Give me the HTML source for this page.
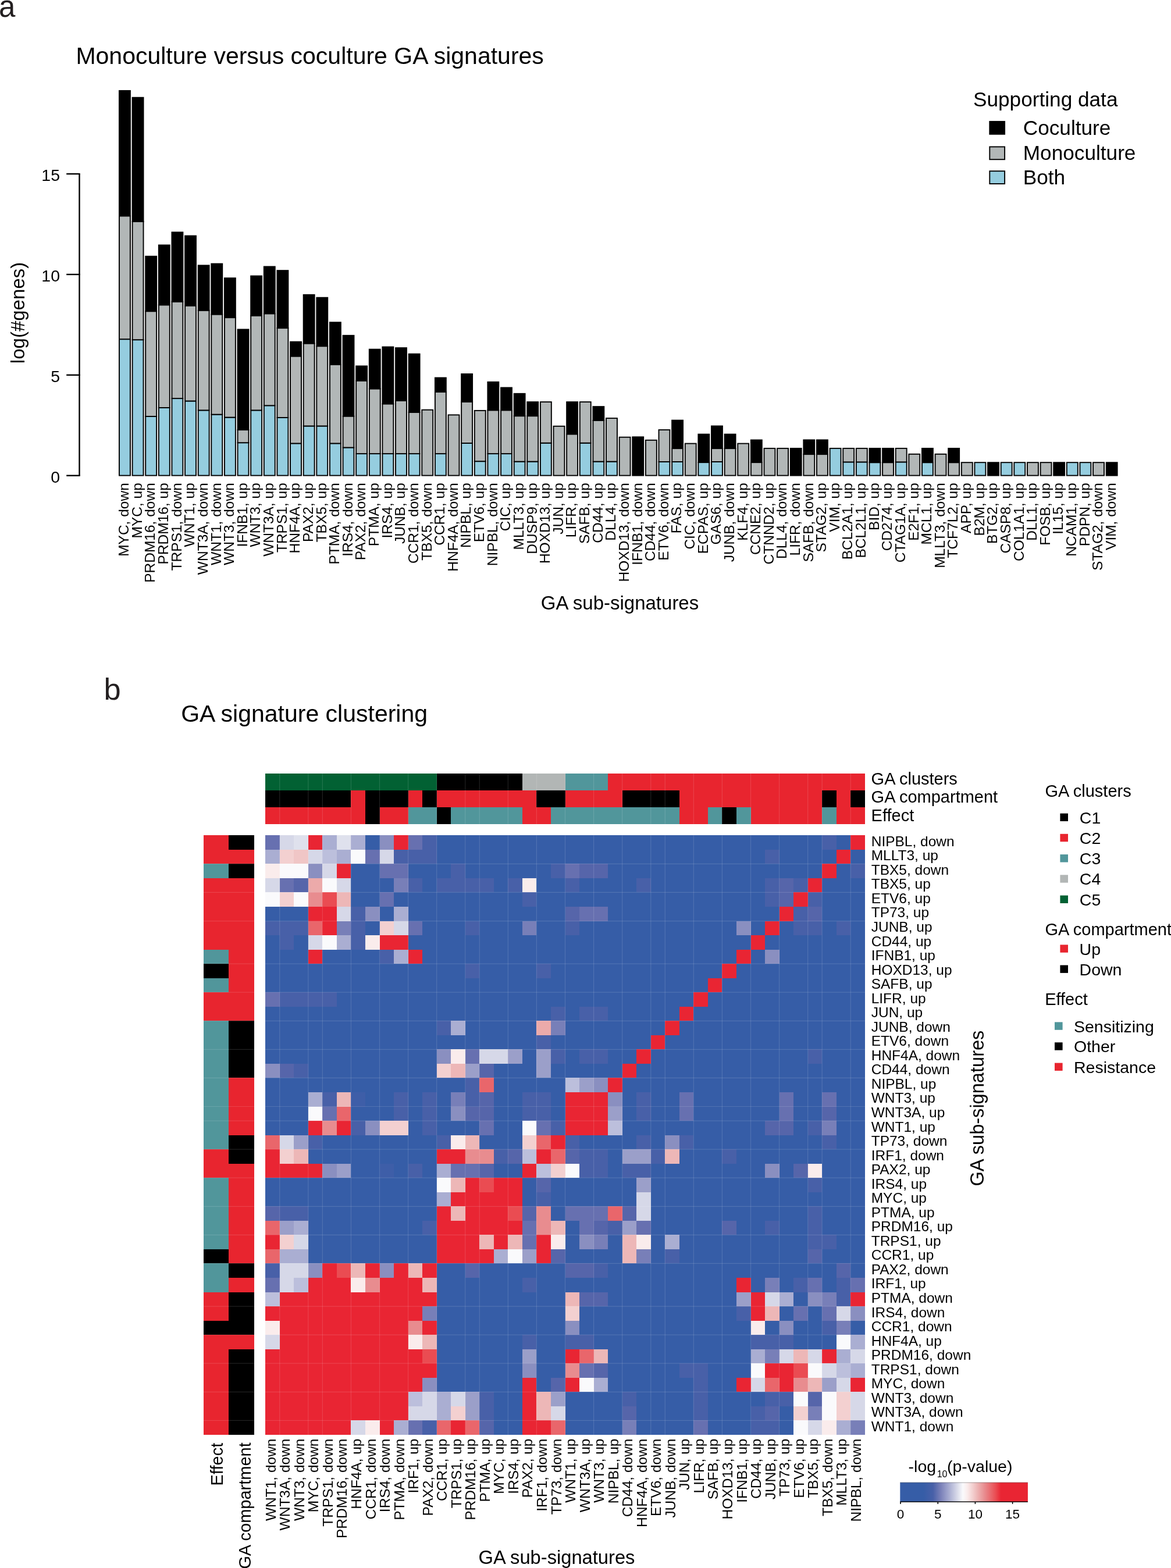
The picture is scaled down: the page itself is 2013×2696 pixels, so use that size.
<!DOCTYPE html>
<html><head><meta charset="utf-8"><title>GA signatures</title>
<style>html,body{margin:0;padding:0;background:#fff;}svg{display:block;}</style></head>
<body>
<svg width="2013" height="2696" viewBox="0 0 2013 2696" font-family="'Liberation Sans', Arial, Helvetica, sans-serif" fill="#000"><text x="-2" y="29" font-size="51" fill="#231f20">a</text>
<text x="130.4" y="110" font-size="41">Monoculture versus coculture GA signatures</text>
<g stroke="#000" stroke-width="2.4" fill="none">
<line x1="136.5" y1="817.7" x2="136.5" y2="299.0"/>
<line x1="114.2" y1="817.7" x2="137.7" y2="817.7"/>
<line x1="114.2" y1="644.8" x2="137.7" y2="644.8"/>
<line x1="114.2" y1="471.9" x2="137.7" y2="471.9"/>
<line x1="114.2" y1="299.0" x2="137.7" y2="299.0"/>
</g>
<text x="103" y="829.8" font-size="28.5" text-anchor="end">0</text>
<text x="103" y="656.9" font-size="28.5" text-anchor="end">5</text>
<text x="103" y="484.0" font-size="28.5" text-anchor="end">10</text>
<text x="103" y="311.1" font-size="28.5" text-anchor="end">15</text>
<text transform="translate(41.8,538) rotate(-90)" font-size="33" text-anchor="middle">log(#genes)</text>
<g stroke="#000" stroke-width="1.9">
<rect x="204.95" y="583.2" width="18.95" height="234.4" fill="#95cddf"/>
<rect x="204.95" y="371.3" width="18.95" height="211.9" fill="#b2b7b7"/>
<rect x="204.95" y="155.9" width="18.95" height="215.4" fill="#000"/>
<rect x="227.57" y="584.2" width="18.95" height="233.4" fill="#95cddf"/>
<rect x="227.57" y="380.9" width="18.95" height="203.3" fill="#b2b7b7"/>
<rect x="227.57" y="167.7" width="18.95" height="213.2" fill="#000"/>
<rect x="250.20" y="716.0" width="18.95" height="101.6" fill="#95cddf"/>
<rect x="250.20" y="535.2" width="18.95" height="180.8" fill="#b2b7b7"/>
<rect x="250.20" y="440.7" width="18.95" height="94.5" fill="#000"/>
<rect x="272.82" y="701.0" width="18.95" height="116.6" fill="#95cddf"/>
<rect x="272.82" y="524.3" width="18.95" height="176.7" fill="#b2b7b7"/>
<rect x="272.82" y="421.4" width="18.95" height="102.9" fill="#000"/>
<rect x="295.44" y="685.1" width="18.95" height="132.5" fill="#95cddf"/>
<rect x="295.44" y="518.7" width="18.95" height="166.4" fill="#b2b7b7"/>
<rect x="295.44" y="399.3" width="18.95" height="119.4" fill="#000"/>
<rect x="318.06" y="689.5" width="18.95" height="128.1" fill="#95cddf"/>
<rect x="318.06" y="525.6" width="18.95" height="163.9" fill="#b2b7b7"/>
<rect x="318.06" y="405.5" width="18.95" height="120.1" fill="#000"/>
<rect x="340.69" y="705.4" width="18.95" height="112.2" fill="#95cddf"/>
<rect x="340.69" y="533.7" width="18.95" height="171.7" fill="#b2b7b7"/>
<rect x="340.69" y="456.3" width="18.95" height="77.4" fill="#000"/>
<rect x="363.31" y="712.6" width="18.95" height="105.0" fill="#95cddf"/>
<rect x="363.31" y="540.5" width="18.95" height="172.1" fill="#b2b7b7"/>
<rect x="363.31" y="453.5" width="18.95" height="87.0" fill="#000"/>
<rect x="385.93" y="717.6" width="18.95" height="100.0" fill="#95cddf"/>
<rect x="385.93" y="546.1" width="18.95" height="171.5" fill="#b2b7b7"/>
<rect x="385.93" y="478.1" width="18.95" height="68.0" fill="#000"/>
<rect x="408.56" y="761.2" width="18.95" height="56.4" fill="#95cddf"/>
<rect x="408.56" y="739.1" width="18.95" height="22.1" fill="#b2b7b7"/>
<rect x="408.56" y="566.4" width="18.95" height="172.7" fill="#000"/>
<rect x="431.18" y="705.4" width="18.95" height="112.2" fill="#95cddf"/>
<rect x="431.18" y="542.7" width="18.95" height="162.7" fill="#b2b7b7"/>
<rect x="431.18" y="474.5" width="18.95" height="68.2" fill="#000"/>
<rect x="453.80" y="697.3" width="18.95" height="120.3" fill="#95cddf"/>
<rect x="453.80" y="539.3" width="18.95" height="158.0" fill="#b2b7b7"/>
<rect x="453.80" y="458.4" width="18.95" height="80.9" fill="#000"/>
<rect x="476.43" y="718.0" width="18.95" height="99.6" fill="#95cddf"/>
<rect x="476.43" y="564.1" width="18.95" height="153.9" fill="#b2b7b7"/>
<rect x="476.43" y="465.1" width="18.95" height="99.0" fill="#000"/>
<rect x="499.05" y="762.4" width="18.95" height="55.2" fill="#95cddf"/>
<rect x="499.05" y="612.5" width="18.95" height="149.9" fill="#b2b7b7"/>
<rect x="499.05" y="587.7" width="18.95" height="24.8" fill="#000"/>
<rect x="521.67" y="732.5" width="18.95" height="85.1" fill="#95cddf"/>
<rect x="521.67" y="590.5" width="18.95" height="142.0" fill="#b2b7b7"/>
<rect x="521.67" y="506.8" width="18.95" height="83.7" fill="#000"/>
<rect x="544.30" y="732.5" width="18.95" height="85.1" fill="#95cddf"/>
<rect x="544.30" y="595.2" width="18.95" height="137.3" fill="#b2b7b7"/>
<rect x="544.30" y="511.7" width="18.95" height="83.5" fill="#000"/>
<rect x="566.92" y="762.4" width="18.95" height="55.2" fill="#95cddf"/>
<rect x="566.92" y="626.7" width="18.95" height="135.7" fill="#b2b7b7"/>
<rect x="566.92" y="554.2" width="18.95" height="72.5" fill="#000"/>
<rect x="589.54" y="769.5" width="18.95" height="48.1" fill="#95cddf"/>
<rect x="589.54" y="715.6" width="18.95" height="53.9" fill="#b2b7b7"/>
<rect x="589.54" y="576.8" width="18.95" height="138.8" fill="#000"/>
<rect x="612.16" y="780.1" width="18.95" height="37.5" fill="#95cddf"/>
<rect x="612.16" y="654.6" width="18.95" height="125.5" fill="#b2b7b7"/>
<rect x="612.16" y="629.4" width="18.95" height="25.2" fill="#000"/>
<rect x="634.79" y="780.1" width="18.95" height="37.5" fill="#95cddf"/>
<rect x="634.79" y="668.4" width="18.95" height="111.7" fill="#b2b7b7"/>
<rect x="634.79" y="600.6" width="18.95" height="67.8" fill="#000"/>
<rect x="657.41" y="780.1" width="18.95" height="37.5" fill="#95cddf"/>
<rect x="657.41" y="694.4" width="18.95" height="85.7" fill="#b2b7b7"/>
<rect x="657.41" y="596.5" width="18.95" height="97.9" fill="#000"/>
<rect x="680.03" y="780.1" width="18.95" height="37.5" fill="#95cddf"/>
<rect x="680.03" y="689.0" width="18.95" height="91.1" fill="#b2b7b7"/>
<rect x="680.03" y="598.1" width="18.95" height="90.9" fill="#000"/>
<rect x="702.66" y="780.1" width="18.95" height="37.5" fill="#95cddf"/>
<rect x="702.66" y="708.9" width="18.95" height="71.2" fill="#b2b7b7"/>
<rect x="702.66" y="608.6" width="18.95" height="100.3" fill="#000"/>
<rect x="725.28" y="704.7" width="18.95" height="112.9" fill="#b2b7b7"/>
<rect x="747.90" y="780.1" width="18.95" height="37.5" fill="#95cddf"/>
<rect x="747.90" y="673.8" width="18.95" height="106.3" fill="#b2b7b7"/>
<rect x="747.90" y="649.5" width="18.95" height="24.3" fill="#000"/>
<rect x="770.53" y="713.4" width="18.95" height="104.2" fill="#b2b7b7"/>
<rect x="793.15" y="762.0" width="18.95" height="55.6" fill="#95cddf"/>
<rect x="793.15" y="691.0" width="18.95" height="71.0" fill="#b2b7b7"/>
<rect x="793.15" y="643.0" width="18.95" height="48.0" fill="#000"/>
<rect x="815.77" y="793.2" width="18.95" height="24.4" fill="#95cddf"/>
<rect x="815.77" y="705.9" width="18.95" height="87.3" fill="#b2b7b7"/>
<rect x="838.39" y="780.1" width="18.95" height="37.5" fill="#95cddf"/>
<rect x="838.39" y="705.3" width="18.95" height="74.8" fill="#b2b7b7"/>
<rect x="838.39" y="656.8" width="18.95" height="48.5" fill="#000"/>
<rect x="861.02" y="780.1" width="18.95" height="37.5" fill="#95cddf"/>
<rect x="861.02" y="705.3" width="18.95" height="74.8" fill="#b2b7b7"/>
<rect x="861.02" y="666.5" width="18.95" height="38.8" fill="#000"/>
<rect x="883.64" y="793.6" width="18.95" height="24.0" fill="#95cddf"/>
<rect x="883.64" y="715.2" width="18.95" height="78.4" fill="#b2b7b7"/>
<rect x="883.64" y="676.8" width="18.95" height="38.4" fill="#000"/>
<rect x="906.26" y="793.6" width="18.95" height="24.0" fill="#95cddf"/>
<rect x="906.26" y="715.2" width="18.95" height="78.4" fill="#b2b7b7"/>
<rect x="906.26" y="691.1" width="18.95" height="24.1" fill="#000"/>
<rect x="928.89" y="761.7" width="18.95" height="55.9" fill="#95cddf"/>
<rect x="928.89" y="691.1" width="18.95" height="70.6" fill="#b2b7b7"/>
<rect x="951.51" y="732.8" width="18.95" height="84.8" fill="#b2b7b7"/>
<rect x="974.13" y="746.4" width="18.95" height="71.2" fill="#b2b7b7"/>
<rect x="974.13" y="691.1" width="18.95" height="55.3" fill="#000"/>
<rect x="996.76" y="761.7" width="18.95" height="55.9" fill="#95cddf"/>
<rect x="996.76" y="691.1" width="18.95" height="70.6" fill="#b2b7b7"/>
<rect x="1019.38" y="793.6" width="18.95" height="24.0" fill="#95cddf"/>
<rect x="1019.38" y="722.9" width="18.95" height="70.7" fill="#b2b7b7"/>
<rect x="1019.38" y="699.1" width="18.95" height="23.8" fill="#000"/>
<rect x="1042.00" y="793.6" width="18.95" height="24.0" fill="#95cddf"/>
<rect x="1042.00" y="719.1" width="18.95" height="74.5" fill="#b2b7b7"/>
<rect x="1064.62" y="751.7" width="18.95" height="65.9" fill="#b2b7b7"/>
<rect x="1087.25" y="751.3" width="18.95" height="66.3" fill="#000"/>
<rect x="1109.87" y="756.8" width="18.95" height="60.8" fill="#b2b7b7"/>
<rect x="1132.49" y="794.0" width="18.95" height="23.6" fill="#95cddf"/>
<rect x="1132.49" y="739.1" width="18.95" height="54.9" fill="#b2b7b7"/>
<rect x="1155.12" y="794.0" width="18.95" height="23.6" fill="#95cddf"/>
<rect x="1155.12" y="771.1" width="18.95" height="22.9" fill="#b2b7b7"/>
<rect x="1155.12" y="722.6" width="18.95" height="48.5" fill="#000"/>
<rect x="1177.74" y="762.6" width="18.95" height="55.0" fill="#b2b7b7"/>
<rect x="1200.36" y="795.1" width="18.95" height="22.5" fill="#95cddf"/>
<rect x="1200.36" y="746.6" width="18.95" height="48.5" fill="#000"/>
<rect x="1222.99" y="794.0" width="18.95" height="23.6" fill="#95cddf"/>
<rect x="1222.99" y="771.1" width="18.95" height="22.9" fill="#b2b7b7"/>
<rect x="1222.99" y="732.5" width="18.95" height="38.6" fill="#000"/>
<rect x="1245.61" y="771.1" width="18.95" height="46.5" fill="#b2b7b7"/>
<rect x="1245.61" y="746.6" width="18.95" height="24.5" fill="#000"/>
<rect x="1268.23" y="762.6" width="18.95" height="55.0" fill="#b2b7b7"/>
<rect x="1290.85" y="795.1" width="18.95" height="22.5" fill="#b2b7b7"/>
<rect x="1290.85" y="756.5" width="18.95" height="38.6" fill="#000"/>
<rect x="1313.48" y="770.9" width="18.95" height="46.7" fill="#b2b7b7"/>
<rect x="1336.10" y="770.9" width="18.95" height="46.7" fill="#b2b7b7"/>
<rect x="1358.72" y="770.9" width="18.95" height="46.7" fill="#000"/>
<rect x="1381.35" y="781.1" width="18.95" height="36.5" fill="#b2b7b7"/>
<rect x="1381.35" y="756.4" width="18.95" height="24.7" fill="#000"/>
<rect x="1403.97" y="781.1" width="18.95" height="36.5" fill="#b2b7b7"/>
<rect x="1403.97" y="756.4" width="18.95" height="24.7" fill="#000"/>
<rect x="1426.59" y="770.9" width="18.95" height="46.7" fill="#95cddf"/>
<rect x="1449.22" y="794.4" width="18.95" height="23.2" fill="#95cddf"/>
<rect x="1449.22" y="770.9" width="18.95" height="23.5" fill="#b2b7b7"/>
<rect x="1471.84" y="794.4" width="18.95" height="23.2" fill="#95cddf"/>
<rect x="1471.84" y="770.9" width="18.95" height="23.5" fill="#b2b7b7"/>
<rect x="1494.46" y="795.2" width="18.95" height="22.4" fill="#95cddf"/>
<rect x="1494.46" y="770.9" width="18.95" height="24.3" fill="#000"/>
<rect x="1517.08" y="795.2" width="18.95" height="22.4" fill="#b2b7b7"/>
<rect x="1517.08" y="770.9" width="18.95" height="24.3" fill="#000"/>
<rect x="1539.71" y="794.4" width="18.95" height="23.2" fill="#95cddf"/>
<rect x="1539.71" y="770.9" width="18.95" height="23.5" fill="#b2b7b7"/>
<rect x="1562.33" y="780.8" width="18.95" height="36.8" fill="#b2b7b7"/>
<rect x="1584.95" y="795.2" width="18.95" height="22.4" fill="#95cddf"/>
<rect x="1584.95" y="770.9" width="18.95" height="24.3" fill="#000"/>
<rect x="1607.58" y="780.8" width="18.95" height="36.8" fill="#b2b7b7"/>
<rect x="1630.20" y="795.2" width="18.95" height="22.4" fill="#b2b7b7"/>
<rect x="1630.20" y="770.9" width="18.95" height="24.3" fill="#000"/>
<rect x="1652.82" y="795.2" width="18.95" height="22.4" fill="#b2b7b7"/>
<rect x="1675.45" y="795.2" width="18.95" height="22.4" fill="#95cddf"/>
<rect x="1698.07" y="795.2" width="18.95" height="22.4" fill="#000"/>
<rect x="1720.69" y="795.2" width="18.95" height="22.4" fill="#95cddf"/>
<rect x="1743.31" y="795.2" width="18.95" height="22.4" fill="#95cddf"/>
<rect x="1765.94" y="795.2" width="18.95" height="22.4" fill="#b2b7b7"/>
<rect x="1788.56" y="795.2" width="18.95" height="22.4" fill="#b2b7b7"/>
<rect x="1811.18" y="795.2" width="18.95" height="22.4" fill="#000"/>
<rect x="1833.81" y="795.2" width="18.95" height="22.4" fill="#95cddf"/>
<rect x="1856.43" y="795.2" width="18.95" height="22.4" fill="#95cddf"/>
<rect x="1879.05" y="795.2" width="18.95" height="22.4" fill="#b2b7b7"/>
<rect x="1901.68" y="795.2" width="18.95" height="22.4" fill="#000"/>
</g>
<g font-size="24.5" text-anchor="end">
<text transform="translate(221.22,830.2) rotate(-90)">MYC, down</text>
<text transform="translate(243.85,830.2) rotate(-90)">MYC, up</text>
<text transform="translate(266.47,830.2) rotate(-90)">PRDM16, down</text>
<text transform="translate(289.09,830.2) rotate(-90)">PRDM16, up</text>
<text transform="translate(311.72,830.2) rotate(-90)">TRPS1, down</text>
<text transform="translate(334.34,830.2) rotate(-90)">WNT1, up</text>
<text transform="translate(356.96,830.2) rotate(-90)">WNT3A, down</text>
<text transform="translate(379.59,830.2) rotate(-90)">WNT1, down</text>
<text transform="translate(402.21,830.2) rotate(-90)">WNT3, down</text>
<text transform="translate(424.83,830.2) rotate(-90)">IFNB1, up</text>
<text transform="translate(447.46,830.2) rotate(-90)">WNT3, up</text>
<text transform="translate(470.08,830.2) rotate(-90)">WNT3A, up</text>
<text transform="translate(492.70,830.2) rotate(-90)">TRPS1, up</text>
<text transform="translate(515.32,830.2) rotate(-90)">HNF4A, up</text>
<text transform="translate(537.95,830.2) rotate(-90)">PAX2, up</text>
<text transform="translate(560.57,830.2) rotate(-90)">TBX5, up</text>
<text transform="translate(583.19,830.2) rotate(-90)">PTMA, down</text>
<text transform="translate(605.82,830.2) rotate(-90)">IRS4, down</text>
<text transform="translate(628.44,830.2) rotate(-90)">PAX2, down</text>
<text transform="translate(651.06,830.2) rotate(-90)">PTMA, up</text>
<text transform="translate(673.69,830.2) rotate(-90)">IRS4, up</text>
<text transform="translate(696.31,830.2) rotate(-90)">JUNB, up</text>
<text transform="translate(718.93,830.2) rotate(-90)">CCR1, down</text>
<text transform="translate(741.55,830.2) rotate(-90)">TBX5, down</text>
<text transform="translate(764.18,830.2) rotate(-90)">CCR1, up</text>
<text transform="translate(786.80,830.2) rotate(-90)">HNF4A, down</text>
<text transform="translate(809.42,830.2) rotate(-90)">NIPBL, up</text>
<text transform="translate(832.05,830.2) rotate(-90)">ETV6, up</text>
<text transform="translate(854.67,830.2) rotate(-90)">NIPBL, down</text>
<text transform="translate(877.29,830.2) rotate(-90)">CIC, up</text>
<text transform="translate(899.92,830.2) rotate(-90)">MLLT3, up</text>
<text transform="translate(922.54,830.2) rotate(-90)">DUSP9, up</text>
<text transform="translate(945.16,830.2) rotate(-90)">HOXD13, up</text>
<text transform="translate(967.78,830.2) rotate(-90)">JUN, up</text>
<text transform="translate(990.41,830.2) rotate(-90)">LIFR, up</text>
<text transform="translate(1013.03,830.2) rotate(-90)">SAFB, up</text>
<text transform="translate(1035.65,830.2) rotate(-90)">CD44, up</text>
<text transform="translate(1058.28,830.2) rotate(-90)">DLL4, up</text>
<text transform="translate(1080.90,830.2) rotate(-90)">HOXD13, down</text>
<text transform="translate(1103.52,830.2) rotate(-90)">IFNB1, down</text>
<text transform="translate(1126.14,830.2) rotate(-90)">CD44, down</text>
<text transform="translate(1148.77,830.2) rotate(-90)">ETV6, down</text>
<text transform="translate(1171.39,830.2) rotate(-90)">FAS, up</text>
<text transform="translate(1194.01,830.2) rotate(-90)">CIC, down</text>
<text transform="translate(1216.64,830.2) rotate(-90)">ECPAS, up</text>
<text transform="translate(1239.26,830.2) rotate(-90)">GAS6, up</text>
<text transform="translate(1261.88,830.2) rotate(-90)">JUNB, down</text>
<text transform="translate(1284.51,830.2) rotate(-90)">KLF4, up</text>
<text transform="translate(1307.13,830.2) rotate(-90)">CCNE2, up</text>
<text transform="translate(1329.75,830.2) rotate(-90)">CTNND2, up</text>
<text transform="translate(1352.38,830.2) rotate(-90)">DLL4, down</text>
<text transform="translate(1375.00,830.2) rotate(-90)">LIFR, down</text>
<text transform="translate(1397.62,830.2) rotate(-90)">SAFB, down</text>
<text transform="translate(1420.24,830.2) rotate(-90)">STAG2, up</text>
<text transform="translate(1442.87,830.2) rotate(-90)">VIM, up</text>
<text transform="translate(1465.49,830.2) rotate(-90)">BCL2A1, up</text>
<text transform="translate(1488.11,830.2) rotate(-90)">BCL2L1, up</text>
<text transform="translate(1510.74,830.2) rotate(-90)">BID, up</text>
<text transform="translate(1533.36,830.2) rotate(-90)">CD274, up</text>
<text transform="translate(1555.98,830.2) rotate(-90)">CTAG1A, up</text>
<text transform="translate(1578.61,830.2) rotate(-90)">E2F1, up</text>
<text transform="translate(1601.23,830.2) rotate(-90)">MCL1, up</text>
<text transform="translate(1623.85,830.2) rotate(-90)">MLLT3, down</text>
<text transform="translate(1646.47,830.2) rotate(-90)">TCF7L2, up</text>
<text transform="translate(1669.10,830.2) rotate(-90)">APP, up</text>
<text transform="translate(1691.72,830.2) rotate(-90)">B2M, up</text>
<text transform="translate(1714.34,830.2) rotate(-90)">BTG2, up</text>
<text transform="translate(1736.97,830.2) rotate(-90)">CASP8, up</text>
<text transform="translate(1759.59,830.2) rotate(-90)">COL1A1, up</text>
<text transform="translate(1782.21,830.2) rotate(-90)">DLL1, up</text>
<text transform="translate(1804.84,830.2) rotate(-90)">FOSB, up</text>
<text transform="translate(1827.46,830.2) rotate(-90)">IL15, up</text>
<text transform="translate(1850.08,830.2) rotate(-90)">NCAM1, up</text>
<text transform="translate(1872.70,830.2) rotate(-90)">PDPN, up</text>
<text transform="translate(1895.33,830.2) rotate(-90)">STAG2, down</text>
<text transform="translate(1917.95,830.2) rotate(-90)">VIM, down</text>
</g>
<text x="1065.5" y="1047.8" font-size="33" text-anchor="middle">GA sub-signatures</text>
<text x="1673" y="183.2" font-size="35.2">Supporting data</text>
<rect x="1701.3" y="208.9" width="25.8" height="21.8" fill="#000" stroke="#000" stroke-width="1.9"/>
<text x="1758.8" y="231.5" font-size="35.2">Coculture</text>
<rect x="1701.3" y="252.4" width="25.8" height="21.8" fill="#b2b7b7" stroke="#000" stroke-width="1.9"/>
<text x="1758.8" y="275.0" font-size="35.2">Monoculture</text>
<rect x="1701.3" y="294.2" width="25.8" height="21.8" fill="#95cddf" stroke="#000" stroke-width="1.9"/>
<text x="1758.8" y="316.8" font-size="35.2">Both</text>
<text x="178.6" y="1203.4" font-size="52.5" fill="#231f20">b</text>
<text x="311.2" y="1241.3" font-size="41">GA signature clustering</text>
<g shape-rendering="crispEdges">
<rect x="456.20" y="1330.0" width="294.46" height="28.9" fill="#026133"/>
<rect x="750.66" y="1330.0" width="147.23" height="28.9" fill="#000"/>
<rect x="897.89" y="1330.0" width="73.61" height="28.9" fill="#b2b6b5"/>
<rect x="971.50" y="1330.0" width="73.61" height="28.9" fill="#51969b"/>
<rect x="1045.11" y="1330.0" width="441.69" height="28.9" fill="#e8252f"/>
<rect x="456.20" y="1358.9" width="147.23" height="29.0" fill="#000"/>
<rect x="603.43" y="1358.9" width="24.54" height="29.0" fill="#e8252f"/>
<rect x="627.97" y="1358.9" width="73.61" height="29.0" fill="#000"/>
<rect x="701.58" y="1358.9" width="24.54" height="29.0" fill="#e8252f"/>
<rect x="726.12" y="1358.9" width="24.54" height="29.0" fill="#000"/>
<rect x="750.66" y="1358.9" width="171.77" height="29.0" fill="#e8252f"/>
<rect x="922.42" y="1358.9" width="49.08" height="29.0" fill="#000"/>
<rect x="971.50" y="1358.9" width="98.15" height="29.0" fill="#e8252f"/>
<rect x="1069.65" y="1358.9" width="98.15" height="29.0" fill="#000"/>
<rect x="1167.80" y="1358.9" width="245.38" height="29.0" fill="#e8252f"/>
<rect x="1413.19" y="1358.9" width="24.54" height="29.0" fill="#000"/>
<rect x="1437.72" y="1358.9" width="24.54" height="29.0" fill="#e8252f"/>
<rect x="1462.26" y="1358.9" width="24.54" height="29.0" fill="#000"/>
<rect x="456.20" y="1387.9" width="171.77" height="28.9" fill="#e8252f"/>
<rect x="627.97" y="1387.9" width="24.54" height="28.9" fill="#000"/>
<rect x="652.50" y="1387.9" width="49.08" height="28.9" fill="#e8252f"/>
<rect x="701.58" y="1387.9" width="49.08" height="28.9" fill="#51969b"/>
<rect x="750.66" y="1387.9" width="24.54" height="28.9" fill="#000"/>
<rect x="775.20" y="1387.9" width="122.69" height="28.9" fill="#51969b"/>
<rect x="897.89" y="1387.9" width="49.08" height="28.9" fill="#e8252f"/>
<rect x="946.96" y="1387.9" width="220.84" height="28.9" fill="#51969b"/>
<rect x="1167.80" y="1387.9" width="49.08" height="28.9" fill="#e8252f"/>
<rect x="1216.88" y="1387.9" width="24.54" height="28.9" fill="#51969b"/>
<rect x="1241.42" y="1387.9" width="24.54" height="28.9" fill="#000"/>
<rect x="1265.96" y="1387.9" width="24.54" height="28.9" fill="#51969b"/>
<rect x="1290.50" y="1387.9" width="122.69" height="28.9" fill="#e8252f"/>
<rect x="1413.19" y="1387.9" width="24.54" height="28.9" fill="#51969b"/>
<rect x="1437.72" y="1387.9" width="49.08" height="28.9" fill="#e8252f"/>
<rect x="349.7" y="1436.30" width="43.2" height="49.08" fill="#e8252f"/>
<rect x="349.7" y="1485.38" width="43.2" height="24.54" fill="#51969b"/>
<rect x="349.7" y="1509.91" width="43.2" height="122.69" fill="#e8252f"/>
<rect x="349.7" y="1632.60" width="43.2" height="24.54" fill="#51969b"/>
<rect x="349.7" y="1657.14" width="43.2" height="24.54" fill="#000"/>
<rect x="349.7" y="1681.68" width="43.2" height="24.54" fill="#51969b"/>
<rect x="349.7" y="1706.22" width="43.2" height="49.08" fill="#e8252f"/>
<rect x="349.7" y="1755.30" width="43.2" height="220.84" fill="#51969b"/>
<rect x="349.7" y="1976.14" width="43.2" height="49.08" fill="#e8252f"/>
<rect x="349.7" y="2025.21" width="43.2" height="122.69" fill="#51969b"/>
<rect x="349.7" y="2147.90" width="43.2" height="24.54" fill="#000"/>
<rect x="349.7" y="2172.44" width="43.2" height="49.08" fill="#51969b"/>
<rect x="349.7" y="2221.52" width="43.2" height="49.08" fill="#e8252f"/>
<rect x="349.7" y="2270.60" width="43.2" height="24.54" fill="#000"/>
<rect x="349.7" y="2295.13" width="43.2" height="171.77" fill="#e8252f"/>
<rect x="392.9" y="1436.30" width="44.0" height="24.54" fill="#000"/>
<rect x="392.9" y="1460.84" width="44.0" height="24.54" fill="#e8252f"/>
<rect x="392.9" y="1485.38" width="44.0" height="24.54" fill="#000"/>
<rect x="392.9" y="1509.91" width="44.0" height="245.38" fill="#e8252f"/>
<rect x="392.9" y="1755.30" width="44.0" height="98.15" fill="#000"/>
<rect x="392.9" y="1853.45" width="44.0" height="98.15" fill="#e8252f"/>
<rect x="392.9" y="1951.60" width="44.0" height="49.08" fill="#000"/>
<rect x="392.9" y="2000.68" width="44.0" height="171.77" fill="#e8252f"/>
<rect x="392.9" y="2172.44" width="44.0" height="24.54" fill="#000"/>
<rect x="392.9" y="2196.98" width="44.0" height="24.54" fill="#e8252f"/>
<rect x="392.9" y="2221.52" width="44.0" height="73.61" fill="#000"/>
<rect x="392.9" y="2295.13" width="44.0" height="24.54" fill="#e8252f"/>
<rect x="392.9" y="2319.67" width="44.0" height="147.23" fill="#000"/>
</g>
<g shape-rendering="crispEdges">
<rect x="456.2" y="1436.3" width="1030.60" height="1030.60" fill="#365da7"/>
<rect x="456.20" y="1436.30" width="24.54" height="24.54" fill="#6770b0"/>
<rect x="480.74" y="1436.30" width="24.54" height="24.54" fill="#d6d8e8"/>
<rect x="505.28" y="1436.30" width="24.54" height="24.54" fill="#dfe1ed"/>
<rect x="529.81" y="1436.30" width="24.54" height="24.54" fill="#e92533"/>
<rect x="554.35" y="1436.30" width="24.54" height="24.54" fill="#aaaed2"/>
<rect x="578.89" y="1436.30" width="24.54" height="24.54" fill="#dfe1ed"/>
<rect x="603.43" y="1436.30" width="24.54" height="24.54" fill="#aaaed2"/>
<rect x="652.50" y="1436.30" width="24.54" height="24.54" fill="#8a8fc0"/>
<rect x="677.04" y="1436.30" width="24.54" height="24.54" fill="#e92533"/>
<rect x="701.58" y="1436.30" width="24.54" height="24.54" fill="#6770b0"/>
<rect x="726.12" y="1436.30" width="24.54" height="24.54" fill="#4860a8"/>
<rect x="1413.19" y="1436.30" width="24.54" height="24.54" fill="#4860a8"/>
<rect x="1462.26" y="1436.30" width="24.54" height="24.54" fill="#e92533"/>
<rect x="456.20" y="1460.84" width="24.54" height="24.54" fill="#aaaed2"/>
<rect x="480.74" y="1460.84" width="24.54" height="24.54" fill="#f3d0d0"/>
<rect x="505.28" y="1460.84" width="24.54" height="24.54" fill="#f0c6c6"/>
<rect x="529.81" y="1460.84" width="24.54" height="24.54" fill="#d6d8e8"/>
<rect x="554.35" y="1460.84" width="24.54" height="24.54" fill="#bcbfdc"/>
<rect x="578.89" y="1460.84" width="24.54" height="24.54" fill="#aaaed2"/>
<rect x="603.43" y="1460.84" width="24.54" height="24.54" fill="#fafafc"/>
<rect x="627.97" y="1460.84" width="24.54" height="24.54" fill="#6770b0"/>
<rect x="652.50" y="1460.84" width="24.54" height="24.54" fill="#d6d8e8"/>
<rect x="677.04" y="1460.84" width="73.61" height="24.54" fill="#4860a8"/>
<rect x="1315.03" y="1460.84" width="24.54" height="24.54" fill="#4860a8"/>
<rect x="1437.72" y="1460.84" width="24.54" height="24.54" fill="#e92533"/>
<rect x="456.20" y="1485.38" width="24.54" height="24.54" fill="#faecec"/>
<rect x="480.74" y="1485.38" width="49.08" height="24.54" fill="#fafafc"/>
<rect x="529.81" y="1485.38" width="24.54" height="24.54" fill="#8a8fc0"/>
<rect x="554.35" y="1485.38" width="24.54" height="24.54" fill="#d6d8e8"/>
<rect x="578.89" y="1485.38" width="24.54" height="24.54" fill="#e92533"/>
<rect x="652.50" y="1485.38" width="49.08" height="24.54" fill="#6770b0"/>
<rect x="775.20" y="1485.38" width="24.54" height="24.54" fill="#4860a8"/>
<rect x="946.96" y="1485.38" width="24.54" height="24.54" fill="#4860a8"/>
<rect x="971.50" y="1485.38" width="24.54" height="24.54" fill="#6770b0"/>
<rect x="996.04" y="1485.38" width="49.08" height="24.54" fill="#5665aa"/>
<rect x="1413.19" y="1485.38" width="24.54" height="24.54" fill="#e92533"/>
<rect x="1462.26" y="1485.38" width="24.54" height="24.54" fill="#4860a8"/>
<rect x="456.20" y="1509.91" width="24.54" height="24.54" fill="#d6d8e8"/>
<rect x="480.74" y="1509.91" width="24.54" height="24.54" fill="#6770b0"/>
<rect x="505.28" y="1509.91" width="24.54" height="24.54" fill="#5665aa"/>
<rect x="529.81" y="1509.91" width="24.54" height="24.54" fill="#ecaaaa"/>
<rect x="554.35" y="1509.91" width="24.54" height="24.54" fill="#fafafc"/>
<rect x="578.89" y="1509.91" width="24.54" height="24.54" fill="#d6d8e8"/>
<rect x="677.04" y="1509.91" width="24.54" height="24.54" fill="#787fb8"/>
<rect x="701.58" y="1509.91" width="24.54" height="24.54" fill="#4860a8"/>
<rect x="750.66" y="1509.91" width="98.15" height="24.54" fill="#4860a8"/>
<rect x="873.35" y="1509.91" width="24.54" height="24.54" fill="#4860a8"/>
<rect x="897.89" y="1509.91" width="24.54" height="24.54" fill="#faecec"/>
<rect x="971.50" y="1509.91" width="24.54" height="24.54" fill="#4860a8"/>
<rect x="1094.19" y="1509.91" width="24.54" height="24.54" fill="#4860a8"/>
<rect x="1315.03" y="1509.91" width="24.54" height="24.54" fill="#4860a8"/>
<rect x="1339.57" y="1509.91" width="24.54" height="24.54" fill="#5665aa"/>
<rect x="1364.11" y="1509.91" width="24.54" height="24.54" fill="#4860a8"/>
<rect x="1388.65" y="1509.91" width="24.54" height="24.54" fill="#e92533"/>
<rect x="456.20" y="1534.45" width="24.54" height="24.54" fill="#fafafc"/>
<rect x="480.74" y="1534.45" width="24.54" height="24.54" fill="#f3d0d0"/>
<rect x="505.28" y="1534.45" width="24.54" height="24.54" fill="#fafafc"/>
<rect x="529.81" y="1534.45" width="24.54" height="24.54" fill="#e88c8f"/>
<rect x="554.35" y="1534.45" width="24.54" height="24.54" fill="#ea4c52"/>
<rect x="578.89" y="1534.45" width="24.54" height="24.54" fill="#edb7b7"/>
<rect x="652.50" y="1534.45" width="24.54" height="24.54" fill="#6770b0"/>
<rect x="897.89" y="1534.45" width="24.54" height="24.54" fill="#4860a8"/>
<rect x="1315.03" y="1534.45" width="24.54" height="24.54" fill="#4860a8"/>
<rect x="1339.57" y="1534.45" width="24.54" height="24.54" fill="#5665aa"/>
<rect x="1364.11" y="1534.45" width="24.54" height="24.54" fill="#e92533"/>
<rect x="1388.65" y="1534.45" width="24.54" height="24.54" fill="#4860a8"/>
<rect x="529.81" y="1558.99" width="49.08" height="24.54" fill="#e92533"/>
<rect x="578.89" y="1558.99" width="24.54" height="24.54" fill="#d6d8e8"/>
<rect x="603.43" y="1558.99" width="24.54" height="24.54" fill="#4860a8"/>
<rect x="627.97" y="1558.99" width="24.54" height="24.54" fill="#8a8fc0"/>
<rect x="677.04" y="1558.99" width="24.54" height="24.54" fill="#aaaed2"/>
<rect x="971.50" y="1558.99" width="24.54" height="24.54" fill="#5665aa"/>
<rect x="996.04" y="1558.99" width="49.08" height="24.54" fill="#6770b0"/>
<rect x="1339.57" y="1558.99" width="24.54" height="24.54" fill="#e92533"/>
<rect x="1364.11" y="1558.99" width="24.54" height="24.54" fill="#4860a8"/>
<rect x="1388.65" y="1558.99" width="24.54" height="24.54" fill="#5665aa"/>
<rect x="456.20" y="1583.53" width="73.61" height="24.54" fill="#4860a8"/>
<rect x="529.81" y="1583.53" width="24.54" height="24.54" fill="#e9666b"/>
<rect x="554.35" y="1583.53" width="24.54" height="24.54" fill="#e92533"/>
<rect x="578.89" y="1583.53" width="24.54" height="24.54" fill="#787fb8"/>
<rect x="603.43" y="1583.53" width="24.54" height="24.54" fill="#4860a8"/>
<rect x="652.50" y="1583.53" width="24.54" height="24.54" fill="#f3d0d0"/>
<rect x="677.04" y="1583.53" width="24.54" height="24.54" fill="#d6d8e8"/>
<rect x="701.58" y="1583.53" width="24.54" height="24.54" fill="#6770b0"/>
<rect x="799.73" y="1583.53" width="24.54" height="24.54" fill="#4860a8"/>
<rect x="897.89" y="1583.53" width="24.54" height="24.54" fill="#787fb8"/>
<rect x="971.50" y="1583.53" width="24.54" height="24.54" fill="#4860a8"/>
<rect x="1265.96" y="1583.53" width="24.54" height="24.54" fill="#8a8fc0"/>
<rect x="1315.03" y="1583.53" width="24.54" height="24.54" fill="#e92533"/>
<rect x="1364.11" y="1583.53" width="49.08" height="24.54" fill="#4860a8"/>
<rect x="1437.72" y="1583.53" width="24.54" height="24.54" fill="#4860a8"/>
<rect x="480.74" y="1608.07" width="24.54" height="24.54" fill="#4860a8"/>
<rect x="529.81" y="1608.07" width="24.54" height="24.54" fill="#d6d8e8"/>
<rect x="554.35" y="1608.07" width="24.54" height="24.54" fill="#fafafc"/>
<rect x="578.89" y="1608.07" width="24.54" height="24.54" fill="#aaaed2"/>
<rect x="603.43" y="1608.07" width="24.54" height="24.54" fill="#4860a8"/>
<rect x="627.97" y="1608.07" width="24.54" height="24.54" fill="#faecec"/>
<rect x="652.50" y="1608.07" width="49.08" height="24.54" fill="#e92533"/>
<rect x="1290.50" y="1608.07" width="24.54" height="24.54" fill="#e92533"/>
<rect x="529.81" y="1632.60" width="24.54" height="24.54" fill="#e92533"/>
<rect x="652.50" y="1632.60" width="24.54" height="24.54" fill="#4860a8"/>
<rect x="677.04" y="1632.60" width="24.54" height="24.54" fill="#aaaed2"/>
<rect x="701.58" y="1632.60" width="24.54" height="24.54" fill="#e92533"/>
<rect x="1265.96" y="1632.60" width="24.54" height="24.54" fill="#e92533"/>
<rect x="1315.03" y="1632.60" width="24.54" height="24.54" fill="#8a8fc0"/>
<rect x="799.73" y="1657.14" width="24.54" height="24.54" fill="#4860a8"/>
<rect x="922.42" y="1657.14" width="24.54" height="24.54" fill="#4860a8"/>
<rect x="1241.42" y="1657.14" width="24.54" height="24.54" fill="#e92533"/>
<rect x="1216.88" y="1681.68" width="24.54" height="24.54" fill="#e92533"/>
<rect x="456.20" y="1706.22" width="24.54" height="24.54" fill="#6770b0"/>
<rect x="480.74" y="1706.22" width="98.15" height="24.54" fill="#4860a8"/>
<rect x="1192.34" y="1706.22" width="24.54" height="24.54" fill="#e92533"/>
<rect x="946.96" y="1730.76" width="24.54" height="24.54" fill="#4860a8"/>
<rect x="996.04" y="1730.76" width="49.08" height="24.54" fill="#4860a8"/>
<rect x="1167.80" y="1730.76" width="24.54" height="24.54" fill="#e92533"/>
<rect x="750.66" y="1755.30" width="24.54" height="24.54" fill="#4860a8"/>
<rect x="775.20" y="1755.30" width="24.54" height="24.54" fill="#aaaed2"/>
<rect x="922.42" y="1755.30" width="24.54" height="24.54" fill="#ecaaaa"/>
<rect x="946.96" y="1755.30" width="24.54" height="24.54" fill="#787fb8"/>
<rect x="1143.27" y="1755.30" width="24.54" height="24.54" fill="#e92533"/>
<rect x="922.42" y="1779.83" width="24.54" height="24.54" fill="#4860a8"/>
<rect x="1118.73" y="1779.83" width="24.54" height="24.54" fill="#e92533"/>
<rect x="750.66" y="1804.37" width="24.54" height="24.54" fill="#8a8fc0"/>
<rect x="775.20" y="1804.37" width="24.54" height="24.54" fill="#faecec"/>
<rect x="799.73" y="1804.37" width="24.54" height="24.54" fill="#6770b0"/>
<rect x="824.27" y="1804.37" width="49.08" height="24.54" fill="#d6d8e8"/>
<rect x="873.35" y="1804.37" width="24.54" height="24.54" fill="#9b9fc9"/>
<rect x="922.42" y="1804.37" width="24.54" height="24.54" fill="#9b9fc9"/>
<rect x="946.96" y="1804.37" width="24.54" height="24.54" fill="#4860a8"/>
<rect x="996.04" y="1804.37" width="49.08" height="24.54" fill="#4860a8"/>
<rect x="1094.19" y="1804.37" width="24.54" height="24.54" fill="#e92533"/>
<rect x="1388.65" y="1804.37" width="24.54" height="24.54" fill="#4860a8"/>
<rect x="456.20" y="1828.91" width="24.54" height="24.54" fill="#8a8fc0"/>
<rect x="480.74" y="1828.91" width="24.54" height="24.54" fill="#5665aa"/>
<rect x="505.28" y="1828.91" width="24.54" height="24.54" fill="#4860a8"/>
<rect x="750.66" y="1828.91" width="24.54" height="24.54" fill="#f3d0d0"/>
<rect x="775.20" y="1828.91" width="24.54" height="24.54" fill="#edb7b7"/>
<rect x="799.73" y="1828.91" width="24.54" height="24.54" fill="#9b9fc9"/>
<rect x="824.27" y="1828.91" width="24.54" height="24.54" fill="#5665aa"/>
<rect x="922.42" y="1828.91" width="24.54" height="24.54" fill="#9b9fc9"/>
<rect x="1069.65" y="1828.91" width="24.54" height="24.54" fill="#e92533"/>
<rect x="799.73" y="1853.45" width="24.54" height="24.54" fill="#4860a8"/>
<rect x="824.27" y="1853.45" width="24.54" height="24.54" fill="#e9666b"/>
<rect x="971.50" y="1853.45" width="24.54" height="24.54" fill="#bcbfdc"/>
<rect x="996.04" y="1853.45" width="24.54" height="24.54" fill="#9b9fc9"/>
<rect x="1020.58" y="1853.45" width="24.54" height="24.54" fill="#8a8fc0"/>
<rect x="1045.11" y="1853.45" width="24.54" height="24.54" fill="#e92533"/>
<rect x="529.81" y="1877.99" width="24.54" height="24.54" fill="#aaaed2"/>
<rect x="554.35" y="1877.99" width="24.54" height="24.54" fill="#4860a8"/>
<rect x="578.89" y="1877.99" width="24.54" height="24.54" fill="#edb7b7"/>
<rect x="603.43" y="1877.99" width="24.54" height="24.54" fill="#3e5ea8"/>
<rect x="677.04" y="1877.99" width="24.54" height="24.54" fill="#4860a8"/>
<rect x="726.12" y="1877.99" width="24.54" height="24.54" fill="#4860a8"/>
<rect x="775.20" y="1877.99" width="24.54" height="24.54" fill="#787fb8"/>
<rect x="799.73" y="1877.99" width="24.54" height="24.54" fill="#4860a8"/>
<rect x="824.27" y="1877.99" width="24.54" height="24.54" fill="#5665aa"/>
<rect x="897.89" y="1877.99" width="49.08" height="24.54" fill="#4860a8"/>
<rect x="971.50" y="1877.99" width="73.61" height="24.54" fill="#e92533"/>
<rect x="1045.11" y="1877.99" width="24.54" height="24.54" fill="#8a8fc0"/>
<rect x="1094.19" y="1877.99" width="24.54" height="24.54" fill="#4860a8"/>
<rect x="1167.80" y="1877.99" width="24.54" height="24.54" fill="#6770b0"/>
<rect x="1339.57" y="1877.99" width="24.54" height="24.54" fill="#6770b0"/>
<rect x="1413.19" y="1877.99" width="24.54" height="24.54" fill="#6770b0"/>
<rect x="529.81" y="1902.52" width="24.54" height="24.54" fill="#fafafc"/>
<rect x="554.35" y="1902.52" width="24.54" height="24.54" fill="#6770b0"/>
<rect x="578.89" y="1902.52" width="24.54" height="24.54" fill="#e9666b"/>
<rect x="677.04" y="1902.52" width="24.54" height="24.54" fill="#4860a8"/>
<rect x="726.12" y="1902.52" width="24.54" height="24.54" fill="#4860a8"/>
<rect x="775.20" y="1902.52" width="24.54" height="24.54" fill="#8a8fc0"/>
<rect x="799.73" y="1902.52" width="49.08" height="24.54" fill="#5665aa"/>
<rect x="897.89" y="1902.52" width="49.08" height="24.54" fill="#4860a8"/>
<rect x="971.50" y="1902.52" width="73.61" height="24.54" fill="#e92533"/>
<rect x="1045.11" y="1902.52" width="24.54" height="24.54" fill="#9b9fc9"/>
<rect x="1094.19" y="1902.52" width="24.54" height="24.54" fill="#4860a8"/>
<rect x="1167.80" y="1902.52" width="24.54" height="24.54" fill="#6770b0"/>
<rect x="1339.57" y="1902.52" width="24.54" height="24.54" fill="#6770b0"/>
<rect x="1413.19" y="1902.52" width="24.54" height="24.54" fill="#5665aa"/>
<rect x="529.81" y="1927.06" width="24.54" height="24.54" fill="#e92533"/>
<rect x="554.35" y="1927.06" width="24.54" height="24.54" fill="#e88c8f"/>
<rect x="578.89" y="1927.06" width="24.54" height="24.54" fill="#e92533"/>
<rect x="603.43" y="1927.06" width="24.54" height="24.54" fill="#4860a8"/>
<rect x="627.97" y="1927.06" width="24.54" height="24.54" fill="#8a8fc0"/>
<rect x="652.50" y="1927.06" width="49.08" height="24.54" fill="#f3d0d0"/>
<rect x="726.12" y="1927.06" width="24.54" height="24.54" fill="#4860a8"/>
<rect x="824.27" y="1927.06" width="24.54" height="24.54" fill="#6770b0"/>
<rect x="897.89" y="1927.06" width="24.54" height="24.54" fill="#fafafc"/>
<rect x="922.42" y="1927.06" width="24.54" height="24.54" fill="#6770b0"/>
<rect x="946.96" y="1927.06" width="24.54" height="24.54" fill="#4860a8"/>
<rect x="971.50" y="1927.06" width="73.61" height="24.54" fill="#e92533"/>
<rect x="1045.11" y="1927.06" width="24.54" height="24.54" fill="#bcbfdc"/>
<rect x="1315.03" y="1927.06" width="49.08" height="24.54" fill="#5665aa"/>
<rect x="1388.65" y="1927.06" width="24.54" height="24.54" fill="#4860a8"/>
<rect x="1413.19" y="1927.06" width="24.54" height="24.54" fill="#787fb8"/>
<rect x="456.20" y="1951.60" width="24.54" height="24.54" fill="#e9666b"/>
<rect x="480.74" y="1951.60" width="24.54" height="24.54" fill="#d6d8e8"/>
<rect x="505.28" y="1951.60" width="24.54" height="24.54" fill="#9b9fc9"/>
<rect x="529.81" y="1951.60" width="24.54" height="24.54" fill="#4860a8"/>
<rect x="750.66" y="1951.60" width="24.54" height="24.54" fill="#4860a8"/>
<rect x="775.20" y="1951.60" width="24.54" height="24.54" fill="#faecec"/>
<rect x="799.73" y="1951.60" width="24.54" height="24.54" fill="#edb7b7"/>
<rect x="897.89" y="1951.60" width="24.54" height="24.54" fill="#f3d0d0"/>
<rect x="922.42" y="1951.60" width="24.54" height="24.54" fill="#e9666b"/>
<rect x="946.96" y="1951.60" width="24.54" height="24.54" fill="#e92533"/>
<rect x="971.50" y="1951.60" width="24.54" height="24.54" fill="#4860a8"/>
<rect x="1094.19" y="1951.60" width="24.54" height="24.54" fill="#4860a8"/>
<rect x="1143.27" y="1951.60" width="24.54" height="24.54" fill="#8a8fc0"/>
<rect x="1167.80" y="1951.60" width="24.54" height="24.54" fill="#4860a8"/>
<rect x="1413.19" y="1951.60" width="24.54" height="24.54" fill="#4860a8"/>
<rect x="456.20" y="1976.14" width="24.54" height="24.54" fill="#e92533"/>
<rect x="480.74" y="1976.14" width="24.54" height="24.54" fill="#f3d0d0"/>
<rect x="505.28" y="1976.14" width="24.54" height="24.54" fill="#edb7b7"/>
<rect x="750.66" y="1976.14" width="49.08" height="24.54" fill="#e92533"/>
<rect x="799.73" y="1976.14" width="49.08" height="24.54" fill="#e88c8f"/>
<rect x="848.81" y="1976.14" width="24.54" height="24.54" fill="#4860a8"/>
<rect x="873.35" y="1976.14" width="24.54" height="24.54" fill="#5665aa"/>
<rect x="897.89" y="1976.14" width="24.54" height="24.54" fill="#bcbfdc"/>
<rect x="922.42" y="1976.14" width="24.54" height="24.54" fill="#e92533"/>
<rect x="946.96" y="1976.14" width="24.54" height="24.54" fill="#e9666b"/>
<rect x="971.50" y="1976.14" width="24.54" height="24.54" fill="#5665aa"/>
<rect x="996.04" y="1976.14" width="49.08" height="24.54" fill="#4860a8"/>
<rect x="1069.65" y="1976.14" width="49.08" height="24.54" fill="#9b9fc9"/>
<rect x="1118.73" y="1976.14" width="24.54" height="24.54" fill="#4860a8"/>
<rect x="1143.27" y="1976.14" width="24.54" height="24.54" fill="#edb7b7"/>
<rect x="1241.42" y="1976.14" width="24.54" height="24.54" fill="#4860a8"/>
<rect x="456.20" y="2000.68" width="98.15" height="24.54" fill="#e92533"/>
<rect x="554.35" y="2000.68" width="24.54" height="24.54" fill="#8a8fc0"/>
<rect x="578.89" y="2000.68" width="24.54" height="24.54" fill="#9b9fc9"/>
<rect x="652.50" y="2000.68" width="24.54" height="24.54" fill="#3e5ea8"/>
<rect x="701.58" y="2000.68" width="24.54" height="24.54" fill="#4860a8"/>
<rect x="750.66" y="2000.68" width="24.54" height="24.54" fill="#aaaed2"/>
<rect x="775.20" y="2000.68" width="49.08" height="24.54" fill="#6770b0"/>
<rect x="824.27" y="2000.68" width="24.54" height="24.54" fill="#5665aa"/>
<rect x="897.89" y="2000.68" width="24.54" height="24.54" fill="#e92533"/>
<rect x="922.42" y="2000.68" width="24.54" height="24.54" fill="#bcbfdc"/>
<rect x="946.96" y="2000.68" width="24.54" height="24.54" fill="#f3d0d0"/>
<rect x="971.50" y="2000.68" width="24.54" height="24.54" fill="#fafafc"/>
<rect x="996.04" y="2000.68" width="49.08" height="24.54" fill="#4860a8"/>
<rect x="1069.65" y="2000.68" width="49.08" height="24.54" fill="#4860a8"/>
<rect x="1315.03" y="2000.68" width="24.54" height="24.54" fill="#8a8fc0"/>
<rect x="1364.11" y="2000.68" width="24.54" height="24.54" fill="#5665aa"/>
<rect x="1388.65" y="2000.68" width="24.54" height="24.54" fill="#faecec"/>
<rect x="750.66" y="2025.21" width="24.54" height="24.54" fill="#fafafc"/>
<rect x="775.20" y="2025.21" width="24.54" height="24.54" fill="#edb7b7"/>
<rect x="799.73" y="2025.21" width="24.54" height="24.54" fill="#e92533"/>
<rect x="824.27" y="2025.21" width="24.54" height="24.54" fill="#ea4c52"/>
<rect x="848.81" y="2025.21" width="49.08" height="24.54" fill="#e92533"/>
<rect x="922.42" y="2025.21" width="24.54" height="24.54" fill="#5665aa"/>
<rect x="1094.19" y="2025.21" width="24.54" height="24.54" fill="#9b9fc9"/>
<rect x="1388.65" y="2025.21" width="24.54" height="24.54" fill="#4860a8"/>
<rect x="750.66" y="2049.75" width="24.54" height="24.54" fill="#aaaed2"/>
<rect x="775.20" y="2049.75" width="122.69" height="24.54" fill="#e92533"/>
<rect x="922.42" y="2049.75" width="24.54" height="24.54" fill="#4860a8"/>
<rect x="1094.19" y="2049.75" width="24.54" height="24.54" fill="#d6d8e8"/>
<rect x="456.20" y="2074.29" width="24.54" height="24.54" fill="#5665aa"/>
<rect x="480.74" y="2074.29" width="49.08" height="24.54" fill="#4860a8"/>
<rect x="750.66" y="2074.29" width="24.54" height="24.54" fill="#e92533"/>
<rect x="775.20" y="2074.29" width="24.54" height="24.54" fill="#edb7b7"/>
<rect x="799.73" y="2074.29" width="73.61" height="24.54" fill="#e92533"/>
<rect x="873.35" y="2074.29" width="24.54" height="24.54" fill="#ea4c52"/>
<rect x="897.89" y="2074.29" width="24.54" height="24.54" fill="#5665aa"/>
<rect x="922.42" y="2074.29" width="24.54" height="24.54" fill="#e88c8f"/>
<rect x="971.50" y="2074.29" width="73.61" height="24.54" fill="#6770b0"/>
<rect x="1045.11" y="2074.29" width="24.54" height="24.54" fill="#e9666b"/>
<rect x="1069.65" y="2074.29" width="24.54" height="24.54" fill="#5665aa"/>
<rect x="1094.19" y="2074.29" width="24.54" height="24.54" fill="#d6d8e8"/>
<rect x="1388.65" y="2074.29" width="24.54" height="24.54" fill="#4860a8"/>
<rect x="456.20" y="2098.83" width="24.54" height="24.54" fill="#e9666b"/>
<rect x="480.74" y="2098.83" width="24.54" height="24.54" fill="#9b9fc9"/>
<rect x="505.28" y="2098.83" width="24.54" height="24.54" fill="#aaaed2"/>
<rect x="726.12" y="2098.83" width="24.54" height="24.54" fill="#4860a8"/>
<rect x="750.66" y="2098.83" width="147.23" height="24.54" fill="#e92533"/>
<rect x="897.89" y="2098.83" width="24.54" height="24.54" fill="#6770b0"/>
<rect x="922.42" y="2098.83" width="24.54" height="24.54" fill="#e88c8f"/>
<rect x="946.96" y="2098.83" width="24.54" height="24.54" fill="#edb7b7"/>
<rect x="996.04" y="2098.83" width="24.54" height="24.54" fill="#6770b0"/>
<rect x="1020.58" y="2098.83" width="24.54" height="24.54" fill="#5665aa"/>
<rect x="1045.11" y="2098.83" width="24.54" height="24.54" fill="#4860a8"/>
<rect x="1069.65" y="2098.83" width="24.54" height="24.54" fill="#9b9fc9"/>
<rect x="1094.19" y="2098.83" width="24.54" height="24.54" fill="#6770b0"/>
<rect x="1241.42" y="2098.83" width="24.54" height="24.54" fill="#5665aa"/>
<rect x="1315.03" y="2098.83" width="24.54" height="24.54" fill="#4860a8"/>
<rect x="1388.65" y="2098.83" width="24.54" height="24.54" fill="#4860a8"/>
<rect x="456.20" y="2123.37" width="24.54" height="24.54" fill="#e92533"/>
<rect x="480.74" y="2123.37" width="24.54" height="24.54" fill="#f3d0d0"/>
<rect x="505.28" y="2123.37" width="24.54" height="24.54" fill="#d6d8e8"/>
<rect x="750.66" y="2123.37" width="73.61" height="24.54" fill="#e92533"/>
<rect x="824.27" y="2123.37" width="24.54" height="24.54" fill="#edb7b7"/>
<rect x="848.81" y="2123.37" width="24.54" height="24.54" fill="#e92533"/>
<rect x="873.35" y="2123.37" width="24.54" height="24.54" fill="#edb7b7"/>
<rect x="897.89" y="2123.37" width="24.54" height="24.54" fill="#6770b0"/>
<rect x="922.42" y="2123.37" width="24.54" height="24.54" fill="#e92533"/>
<rect x="946.96" y="2123.37" width="24.54" height="24.54" fill="#faecec"/>
<rect x="996.04" y="2123.37" width="24.54" height="24.54" fill="#8a8fc0"/>
<rect x="1020.58" y="2123.37" width="24.54" height="24.54" fill="#787fb8"/>
<rect x="1069.65" y="2123.37" width="24.54" height="24.54" fill="#edb7b7"/>
<rect x="1094.19" y="2123.37" width="24.54" height="24.54" fill="#faecec"/>
<rect x="1143.27" y="2123.37" width="24.54" height="24.54" fill="#aaaed2"/>
<rect x="1388.65" y="2123.37" width="49.08" height="24.54" fill="#4860a8"/>
<rect x="456.20" y="2147.90" width="24.54" height="24.54" fill="#e9666b"/>
<rect x="480.74" y="2147.90" width="49.08" height="24.54" fill="#aaaed2"/>
<rect x="750.66" y="2147.90" width="98.15" height="24.54" fill="#e92533"/>
<rect x="848.81" y="2147.90" width="24.54" height="24.54" fill="#aaaed2"/>
<rect x="873.35" y="2147.90" width="24.54" height="24.54" fill="#fafafc"/>
<rect x="897.89" y="2147.90" width="24.54" height="24.54" fill="#9b9fc9"/>
<rect x="922.42" y="2147.90" width="24.54" height="24.54" fill="#e92533"/>
<rect x="946.96" y="2147.90" width="24.54" height="24.54" fill="#5665aa"/>
<rect x="1069.65" y="2147.90" width="24.54" height="24.54" fill="#edb7b7"/>
<rect x="1094.19" y="2147.90" width="24.54" height="24.54" fill="#787fb8"/>
<rect x="1143.27" y="2147.90" width="24.54" height="24.54" fill="#4860a8"/>
<rect x="1388.65" y="2147.90" width="24.54" height="24.54" fill="#5665aa"/>
<rect x="456.20" y="2172.44" width="24.54" height="24.54" fill="#4860a8"/>
<rect x="480.74" y="2172.44" width="49.08" height="24.54" fill="#d6d8e8"/>
<rect x="529.81" y="2172.44" width="24.54" height="24.54" fill="#8a8fc0"/>
<rect x="554.35" y="2172.44" width="24.54" height="24.54" fill="#e92533"/>
<rect x="578.89" y="2172.44" width="24.54" height="24.54" fill="#ea4c52"/>
<rect x="603.43" y="2172.44" width="24.54" height="24.54" fill="#edb7b7"/>
<rect x="627.97" y="2172.44" width="24.54" height="24.54" fill="#e92533"/>
<rect x="652.50" y="2172.44" width="24.54" height="24.54" fill="#8a8fc0"/>
<rect x="677.04" y="2172.44" width="24.54" height="24.54" fill="#e92533"/>
<rect x="701.58" y="2172.44" width="24.54" height="24.54" fill="#edb7b7"/>
<rect x="726.12" y="2172.44" width="24.54" height="24.54" fill="#e92533"/>
<rect x="799.73" y="2172.44" width="24.54" height="24.54" fill="#5665aa"/>
<rect x="971.50" y="2172.44" width="49.08" height="24.54" fill="#5665aa"/>
<rect x="1020.58" y="2172.44" width="24.54" height="24.54" fill="#4860a8"/>
<rect x="1437.72" y="2172.44" width="24.54" height="24.54" fill="#5665aa"/>
<rect x="456.20" y="2196.98" width="24.54" height="24.54" fill="#6770b0"/>
<rect x="480.74" y="2196.98" width="24.54" height="24.54" fill="#d6d8e8"/>
<rect x="505.28" y="2196.98" width="24.54" height="24.54" fill="#bcbfdc"/>
<rect x="529.81" y="2196.98" width="73.61" height="24.54" fill="#e92533"/>
<rect x="603.43" y="2196.98" width="24.54" height="24.54" fill="#faecec"/>
<rect x="627.97" y="2196.98" width="24.54" height="24.54" fill="#e88c8f"/>
<rect x="652.50" y="2196.98" width="73.61" height="24.54" fill="#e92533"/>
<rect x="726.12" y="2196.98" width="24.54" height="24.54" fill="#edb7b7"/>
<rect x="897.89" y="2196.98" width="24.54" height="24.54" fill="#4860a8"/>
<rect x="1265.96" y="2196.98" width="24.54" height="24.54" fill="#e92533"/>
<rect x="1315.03" y="2196.98" width="24.54" height="24.54" fill="#787fb8"/>
<rect x="1364.11" y="2196.98" width="24.54" height="24.54" fill="#4860a8"/>
<rect x="1388.65" y="2196.98" width="24.54" height="24.54" fill="#6770b0"/>
<rect x="1437.72" y="2196.98" width="24.54" height="24.54" fill="#4860a8"/>
<rect x="1462.26" y="2196.98" width="24.54" height="24.54" fill="#6770b0"/>
<rect x="456.20" y="2221.52" width="24.54" height="24.54" fill="#bcbfdc"/>
<rect x="480.74" y="2221.52" width="269.92" height="24.54" fill="#e92533"/>
<rect x="971.50" y="2221.52" width="24.54" height="24.54" fill="#edb7b7"/>
<rect x="996.04" y="2221.52" width="49.08" height="24.54" fill="#5665aa"/>
<rect x="1265.96" y="2221.52" width="24.54" height="24.54" fill="#9b9fc9"/>
<rect x="1290.50" y="2221.52" width="24.54" height="24.54" fill="#e92533"/>
<rect x="1315.03" y="2221.52" width="24.54" height="24.54" fill="#d6d8e8"/>
<rect x="1339.57" y="2221.52" width="24.54" height="24.54" fill="#aaaed2"/>
<rect x="1388.65" y="2221.52" width="24.54" height="24.54" fill="#8a8fc0"/>
<rect x="1413.19" y="2221.52" width="24.54" height="24.54" fill="#787fb8"/>
<rect x="1437.72" y="2221.52" width="24.54" height="24.54" fill="#4860a8"/>
<rect x="1462.26" y="2221.52" width="24.54" height="24.54" fill="#e92533"/>
<rect x="456.20" y="2246.06" width="269.92" height="24.54" fill="#e92533"/>
<rect x="726.12" y="2246.06" width="24.54" height="24.54" fill="#787fb8"/>
<rect x="971.50" y="2246.06" width="24.54" height="24.54" fill="#f3d0d0"/>
<rect x="1265.96" y="2246.06" width="24.54" height="24.54" fill="#4860a8"/>
<rect x="1290.50" y="2246.06" width="24.54" height="24.54" fill="#e92533"/>
<rect x="1315.03" y="2246.06" width="24.54" height="24.54" fill="#edb7b7"/>
<rect x="1364.11" y="2246.06" width="24.54" height="24.54" fill="#6770b0"/>
<rect x="1413.19" y="2246.06" width="24.54" height="24.54" fill="#6770b0"/>
<rect x="1437.72" y="2246.06" width="24.54" height="24.54" fill="#d6d8e8"/>
<rect x="1462.26" y="2246.06" width="24.54" height="24.54" fill="#8a8fc0"/>
<rect x="456.20" y="2270.60" width="24.54" height="24.54" fill="#faecec"/>
<rect x="480.74" y="2270.60" width="220.84" height="24.54" fill="#e92533"/>
<rect x="701.58" y="2270.60" width="24.54" height="24.54" fill="#e88c8f"/>
<rect x="726.12" y="2270.60" width="24.54" height="24.54" fill="#e92533"/>
<rect x="971.50" y="2270.60" width="24.54" height="24.54" fill="#8a8fc0"/>
<rect x="1290.50" y="2270.60" width="24.54" height="24.54" fill="#faecec"/>
<rect x="1339.57" y="2270.60" width="24.54" height="24.54" fill="#8a8fc0"/>
<rect x="1413.19" y="2270.60" width="24.54" height="24.54" fill="#4860a8"/>
<rect x="1437.72" y="2270.60" width="24.54" height="24.54" fill="#787fb8"/>
<rect x="456.20" y="2295.13" width="24.54" height="24.54" fill="#d6d8e8"/>
<rect x="480.74" y="2295.13" width="220.84" height="24.54" fill="#e92533"/>
<rect x="701.58" y="2295.13" width="24.54" height="24.54" fill="#faecec"/>
<rect x="726.12" y="2295.13" width="24.54" height="24.54" fill="#edb7b7"/>
<rect x="897.89" y="2295.13" width="24.54" height="24.54" fill="#4860a8"/>
<rect x="971.50" y="2295.13" width="49.08" height="24.54" fill="#4860a8"/>
<rect x="1290.50" y="2295.13" width="73.61" height="24.54" fill="#4860a8"/>
<rect x="1437.72" y="2295.13" width="24.54" height="24.54" fill="#fafafc"/>
<rect x="1462.26" y="2295.13" width="24.54" height="24.54" fill="#aaaed2"/>
<rect x="456.20" y="2319.67" width="269.92" height="24.54" fill="#e92533"/>
<rect x="726.12" y="2319.67" width="24.54" height="24.54" fill="#ea4c52"/>
<rect x="897.89" y="2319.67" width="24.54" height="24.54" fill="#9b9fc9"/>
<rect x="971.50" y="2319.67" width="24.54" height="24.54" fill="#e92533"/>
<rect x="996.04" y="2319.67" width="24.54" height="24.54" fill="#e9666b"/>
<rect x="1020.58" y="2319.67" width="24.54" height="24.54" fill="#edb7b7"/>
<rect x="1290.50" y="2319.67" width="24.54" height="24.54" fill="#aaaed2"/>
<rect x="1315.03" y="2319.67" width="24.54" height="24.54" fill="#787fb8"/>
<rect x="1339.57" y="2319.67" width="24.54" height="24.54" fill="#d6d8e8"/>
<rect x="1364.11" y="2319.67" width="24.54" height="24.54" fill="#edb7b7"/>
<rect x="1388.65" y="2319.67" width="24.54" height="24.54" fill="#d6d8e8"/>
<rect x="1413.19" y="2319.67" width="24.54" height="24.54" fill="#e92533"/>
<rect x="1437.72" y="2319.67" width="24.54" height="24.54" fill="#aaaed2"/>
<rect x="1462.26" y="2319.67" width="24.54" height="24.54" fill="#d6d8e8"/>
<rect x="456.20" y="2344.21" width="294.46" height="24.54" fill="#e92533"/>
<rect x="897.89" y="2344.21" width="24.54" height="24.54" fill="#8a8fc0"/>
<rect x="971.50" y="2344.21" width="24.54" height="24.54" fill="#e88c8f"/>
<rect x="996.04" y="2344.21" width="24.54" height="24.54" fill="#6770b0"/>
<rect x="1020.58" y="2344.21" width="24.54" height="24.54" fill="#5665aa"/>
<rect x="1167.80" y="2344.21" width="49.08" height="24.54" fill="#4860a8"/>
<rect x="1290.50" y="2344.21" width="24.54" height="24.54" fill="#fafafc"/>
<rect x="1315.03" y="2344.21" width="49.08" height="24.54" fill="#e92533"/>
<rect x="1364.11" y="2344.21" width="24.54" height="24.54" fill="#ea4c52"/>
<rect x="1388.65" y="2344.21" width="24.54" height="24.54" fill="#fafafc"/>
<rect x="1413.19" y="2344.21" width="24.54" height="24.54" fill="#d6d8e8"/>
<rect x="1437.72" y="2344.21" width="24.54" height="24.54" fill="#bcbfdc"/>
<rect x="1462.26" y="2344.21" width="24.54" height="24.54" fill="#aaaed2"/>
<rect x="456.20" y="2368.75" width="269.92" height="24.54" fill="#e92533"/>
<rect x="726.12" y="2368.75" width="24.54" height="24.54" fill="#8a8fc0"/>
<rect x="897.89" y="2368.75" width="24.54" height="24.54" fill="#e92533"/>
<rect x="946.96" y="2368.75" width="24.54" height="24.54" fill="#5665aa"/>
<rect x="971.50" y="2368.75" width="24.54" height="24.54" fill="#e92533"/>
<rect x="996.04" y="2368.75" width="24.54" height="24.54" fill="#fafafc"/>
<rect x="1020.58" y="2368.75" width="24.54" height="24.54" fill="#aaaed2"/>
<rect x="1192.34" y="2368.75" width="24.54" height="24.54" fill="#4860a8"/>
<rect x="1265.96" y="2368.75" width="24.54" height="24.54" fill="#e92533"/>
<rect x="1290.50" y="2368.75" width="24.54" height="24.54" fill="#d6d8e8"/>
<rect x="1315.03" y="2368.75" width="24.54" height="24.54" fill="#e9666b"/>
<rect x="1339.57" y="2368.75" width="24.54" height="24.54" fill="#e92533"/>
<rect x="1364.11" y="2368.75" width="24.54" height="24.54" fill="#e88c8f"/>
<rect x="1388.65" y="2368.75" width="24.54" height="24.54" fill="#edb7b7"/>
<rect x="1413.19" y="2368.75" width="24.54" height="24.54" fill="#9b9fc9"/>
<rect x="1437.72" y="2368.75" width="24.54" height="24.54" fill="#d6d8e8"/>
<rect x="1462.26" y="2368.75" width="24.54" height="24.54" fill="#e92533"/>
<rect x="456.20" y="2393.29" width="245.38" height="24.54" fill="#e92533"/>
<rect x="701.58" y="2393.29" width="24.54" height="24.54" fill="#bcbfdc"/>
<rect x="726.12" y="2393.29" width="24.54" height="24.54" fill="#d6d8e8"/>
<rect x="750.66" y="2393.29" width="24.54" height="24.54" fill="#aaaed2"/>
<rect x="775.20" y="2393.29" width="24.54" height="24.54" fill="#d6d8e8"/>
<rect x="799.73" y="2393.29" width="24.54" height="24.54" fill="#9b9fc9"/>
<rect x="824.27" y="2393.29" width="24.54" height="24.54" fill="#4860a8"/>
<rect x="897.89" y="2393.29" width="24.54" height="24.54" fill="#e92533"/>
<rect x="922.42" y="2393.29" width="24.54" height="24.54" fill="#edb7b7"/>
<rect x="946.96" y="2393.29" width="24.54" height="24.54" fill="#9b9fc9"/>
<rect x="1069.65" y="2393.29" width="24.54" height="24.54" fill="#4860a8"/>
<rect x="1192.34" y="2393.29" width="24.54" height="24.54" fill="#4860a8"/>
<rect x="1315.03" y="2393.29" width="49.08" height="24.54" fill="#4860a8"/>
<rect x="1364.11" y="2393.29" width="24.54" height="24.54" fill="#fafafc"/>
<rect x="1388.65" y="2393.29" width="24.54" height="24.54" fill="#5665aa"/>
<rect x="1413.19" y="2393.29" width="24.54" height="24.54" fill="#fafafc"/>
<rect x="1437.72" y="2393.29" width="24.54" height="24.54" fill="#f3d0d0"/>
<rect x="1462.26" y="2393.29" width="24.54" height="24.54" fill="#d6d8e8"/>
<rect x="456.20" y="2417.82" width="245.38" height="24.54" fill="#e92533"/>
<rect x="701.58" y="2417.82" width="49.08" height="24.54" fill="#d6d8e8"/>
<rect x="750.66" y="2417.82" width="24.54" height="24.54" fill="#aaaed2"/>
<rect x="775.20" y="2417.82" width="24.54" height="24.54" fill="#f3d0d0"/>
<rect x="799.73" y="2417.82" width="24.54" height="24.54" fill="#9b9fc9"/>
<rect x="824.27" y="2417.82" width="24.54" height="24.54" fill="#4860a8"/>
<rect x="897.89" y="2417.82" width="24.54" height="24.54" fill="#e92533"/>
<rect x="922.42" y="2417.82" width="24.54" height="24.54" fill="#edb7b7"/>
<rect x="946.96" y="2417.82" width="24.54" height="24.54" fill="#d6d8e8"/>
<rect x="1069.65" y="2417.82" width="24.54" height="24.54" fill="#5665aa"/>
<rect x="1192.34" y="2417.82" width="24.54" height="24.54" fill="#4860a8"/>
<rect x="1290.50" y="2417.82" width="24.54" height="24.54" fill="#4860a8"/>
<rect x="1315.03" y="2417.82" width="24.54" height="24.54" fill="#5665aa"/>
<rect x="1364.11" y="2417.82" width="24.54" height="24.54" fill="#f3d0d0"/>
<rect x="1388.65" y="2417.82" width="24.54" height="24.54" fill="#787fb8"/>
<rect x="1413.19" y="2417.82" width="24.54" height="24.54" fill="#fafafc"/>
<rect x="1437.72" y="2417.82" width="24.54" height="24.54" fill="#f3d0d0"/>
<rect x="1462.26" y="2417.82" width="24.54" height="24.54" fill="#d6d8e8"/>
<rect x="456.20" y="2442.36" width="147.23" height="24.54" fill="#e92533"/>
<rect x="603.43" y="2442.36" width="24.54" height="24.54" fill="#d6d8e8"/>
<rect x="627.97" y="2442.36" width="24.54" height="24.54" fill="#faecec"/>
<rect x="652.50" y="2442.36" width="24.54" height="24.54" fill="#e92533"/>
<rect x="677.04" y="2442.36" width="24.54" height="24.54" fill="#aaaed2"/>
<rect x="701.58" y="2442.36" width="24.54" height="24.54" fill="#6770b0"/>
<rect x="726.12" y="2442.36" width="24.54" height="24.54" fill="#4860a8"/>
<rect x="750.66" y="2442.36" width="24.54" height="24.54" fill="#e9666b"/>
<rect x="775.20" y="2442.36" width="24.54" height="24.54" fill="#e92533"/>
<rect x="799.73" y="2442.36" width="24.54" height="24.54" fill="#e9666b"/>
<rect x="824.27" y="2442.36" width="24.54" height="24.54" fill="#5665aa"/>
<rect x="897.89" y="2442.36" width="49.08" height="24.54" fill="#e92533"/>
<rect x="946.96" y="2442.36" width="24.54" height="24.54" fill="#e9666b"/>
<rect x="1069.65" y="2442.36" width="24.54" height="24.54" fill="#787fb8"/>
<rect x="1192.34" y="2442.36" width="24.54" height="24.54" fill="#6770b0"/>
<rect x="1290.50" y="2442.36" width="49.08" height="24.54" fill="#4860a8"/>
<rect x="1364.11" y="2442.36" width="24.54" height="24.54" fill="#fafafc"/>
<rect x="1388.65" y="2442.36" width="24.54" height="24.54" fill="#d6d8e8"/>
<rect x="1413.19" y="2442.36" width="24.54" height="24.54" fill="#faecec"/>
<rect x="1437.72" y="2442.36" width="24.54" height="24.54" fill="#aaaed2"/>
<rect x="1462.26" y="2442.36" width="24.54" height="24.54" fill="#787fb8"/>
</g>
<g stroke="#fff" stroke-opacity="0.13" stroke-width="1.2">
<line x1="480.74" y1="1330.0" x2="480.74" y2="1416.8"/>
<line x1="480.74" y1="1436.3" x2="480.74" y2="2466.90"/>
<line x1="529.81" y1="1330.0" x2="529.81" y2="1416.8"/>
<line x1="529.81" y1="1436.3" x2="529.81" y2="2466.90"/>
<line x1="554.35" y1="1330.0" x2="554.35" y2="1416.8"/>
<line x1="554.35" y1="1436.3" x2="554.35" y2="2466.90"/>
<line x1="603.43" y1="1330.0" x2="603.43" y2="1416.8"/>
<line x1="603.43" y1="1436.3" x2="603.43" y2="2466.90"/>
<line x1="652.50" y1="1330.0" x2="652.50" y2="1416.8"/>
<line x1="652.50" y1="1436.3" x2="652.50" y2="2466.90"/>
<line x1="701.58" y1="1330.0" x2="701.58" y2="1416.8"/>
<line x1="701.58" y1="1436.3" x2="701.58" y2="2466.90"/>
<line x1="750.66" y1="1330.0" x2="750.66" y2="1416.8"/>
<line x1="750.66" y1="1436.3" x2="750.66" y2="2466.90"/>
<line x1="799.73" y1="1330.0" x2="799.73" y2="1416.8"/>
<line x1="799.73" y1="1436.3" x2="799.73" y2="2466.90"/>
<line x1="824.27" y1="1330.0" x2="824.27" y2="1416.8"/>
<line x1="824.27" y1="1436.3" x2="824.27" y2="2466.90"/>
<line x1="873.35" y1="1330.0" x2="873.35" y2="1416.8"/>
<line x1="873.35" y1="1436.3" x2="873.35" y2="2466.90"/>
<line x1="922.42" y1="1330.0" x2="922.42" y2="1416.8"/>
<line x1="922.42" y1="1436.3" x2="922.42" y2="2466.90"/>
<line x1="971.50" y1="1330.0" x2="971.50" y2="1416.8"/>
<line x1="971.50" y1="1436.3" x2="971.50" y2="2466.90"/>
<line x1="1020.58" y1="1330.0" x2="1020.58" y2="1416.8"/>
<line x1="1020.58" y1="1436.3" x2="1020.58" y2="2466.90"/>
<line x1="1069.65" y1="1330.0" x2="1069.65" y2="1416.8"/>
<line x1="1069.65" y1="1436.3" x2="1069.65" y2="2466.90"/>
<line x1="1118.73" y1="1330.0" x2="1118.73" y2="1416.8"/>
<line x1="1118.73" y1="1436.3" x2="1118.73" y2="2466.90"/>
<line x1="1143.27" y1="1330.0" x2="1143.27" y2="1416.8"/>
<line x1="1143.27" y1="1436.3" x2="1143.27" y2="2466.90"/>
<line x1="1192.34" y1="1330.0" x2="1192.34" y2="1416.8"/>
<line x1="1192.34" y1="1436.3" x2="1192.34" y2="2466.90"/>
<line x1="1241.42" y1="1330.0" x2="1241.42" y2="1416.8"/>
<line x1="1241.42" y1="1436.3" x2="1241.42" y2="2466.90"/>
<line x1="1290.50" y1="1330.0" x2="1290.50" y2="1416.8"/>
<line x1="1290.50" y1="1436.3" x2="1290.50" y2="2466.90"/>
<line x1="1339.57" y1="1330.0" x2="1339.57" y2="1416.8"/>
<line x1="1339.57" y1="1436.3" x2="1339.57" y2="2466.90"/>
<line x1="1388.65" y1="1330.0" x2="1388.65" y2="1416.8"/>
<line x1="1388.65" y1="1436.3" x2="1388.65" y2="2466.90"/>
<line x1="1413.19" y1="1330.0" x2="1413.19" y2="1416.8"/>
<line x1="1413.19" y1="1436.3" x2="1413.19" y2="2466.90"/>
<line x1="1462.26" y1="1330.0" x2="1462.26" y2="1416.8"/>
<line x1="1462.26" y1="1436.3" x2="1462.26" y2="2466.90"/>
<line x1="349.7" y1="1485.38" x2="436.9" y2="1485.38"/>
<line x1="456.2" y1="1485.38" x2="1486.80" y2="1485.38"/>
<line x1="349.7" y1="1534.45" x2="436.9" y2="1534.45"/>
<line x1="456.2" y1="1534.45" x2="1486.80" y2="1534.45"/>
<line x1="349.7" y1="1583.53" x2="436.9" y2="1583.53"/>
<line x1="456.2" y1="1583.53" x2="1486.80" y2="1583.53"/>
<line x1="349.7" y1="1657.14" x2="436.9" y2="1657.14"/>
<line x1="456.2" y1="1657.14" x2="1486.80" y2="1657.14"/>
<line x1="349.7" y1="1706.22" x2="436.9" y2="1706.22"/>
<line x1="456.2" y1="1706.22" x2="1486.80" y2="1706.22"/>
<line x1="349.7" y1="1755.30" x2="436.9" y2="1755.30"/>
<line x1="456.2" y1="1755.30" x2="1486.80" y2="1755.30"/>
<line x1="349.7" y1="1804.37" x2="436.9" y2="1804.37"/>
<line x1="456.2" y1="1804.37" x2="1486.80" y2="1804.37"/>
<line x1="349.7" y1="1853.45" x2="436.9" y2="1853.45"/>
<line x1="456.2" y1="1853.45" x2="1486.80" y2="1853.45"/>
<line x1="349.7" y1="1902.52" x2="436.9" y2="1902.52"/>
<line x1="456.2" y1="1902.52" x2="1486.80" y2="1902.52"/>
<line x1="349.7" y1="1927.06" x2="436.9" y2="1927.06"/>
<line x1="456.2" y1="1927.06" x2="1486.80" y2="1927.06"/>
<line x1="349.7" y1="1976.14" x2="436.9" y2="1976.14"/>
<line x1="456.2" y1="1976.14" x2="1486.80" y2="1976.14"/>
<line x1="349.7" y1="2025.21" x2="436.9" y2="2025.21"/>
<line x1="456.2" y1="2025.21" x2="1486.80" y2="2025.21"/>
<line x1="349.7" y1="2074.29" x2="436.9" y2="2074.29"/>
<line x1="456.2" y1="2074.29" x2="1486.80" y2="2074.29"/>
<line x1="349.7" y1="2123.37" x2="436.9" y2="2123.37"/>
<line x1="456.2" y1="2123.37" x2="1486.80" y2="2123.37"/>
<line x1="349.7" y1="2172.44" x2="436.9" y2="2172.44"/>
<line x1="456.2" y1="2172.44" x2="1486.80" y2="2172.44"/>
<line x1="349.7" y1="2246.06" x2="436.9" y2="2246.06"/>
<line x1="456.2" y1="2246.06" x2="1486.80" y2="2246.06"/>
<line x1="349.7" y1="2295.13" x2="436.9" y2="2295.13"/>
<line x1="456.2" y1="2295.13" x2="1486.80" y2="2295.13"/>
<line x1="349.7" y1="2344.21" x2="436.9" y2="2344.21"/>
<line x1="456.2" y1="2344.21" x2="1486.80" y2="2344.21"/>
<line x1="349.7" y1="2393.29" x2="436.9" y2="2393.29"/>
<line x1="456.2" y1="2393.29" x2="1486.80" y2="2393.29"/>
<line x1="349.7" y1="2442.36" x2="436.9" y2="2442.36"/>
<line x1="456.2" y1="2442.36" x2="1486.80" y2="2442.36"/>
</g>
<g font-size="24.5">
<text x="1497.7" y="1454.77">NIPBL, down</text>
<text x="1497.7" y="1479.31">MLLT3, up</text>
<text x="1497.7" y="1503.85">TBX5, down</text>
<text x="1497.7" y="1528.38">TBX5, up</text>
<text x="1497.7" y="1552.92">ETV6, up</text>
<text x="1497.7" y="1577.46">TP73, up</text>
<text x="1497.7" y="1602.00">JUNB, up</text>
<text x="1497.7" y="1626.54">CD44, up</text>
<text x="1497.7" y="1651.07">IFNB1, up</text>
<text x="1497.7" y="1675.61">HOXD13, up</text>
<text x="1497.7" y="1700.15">SAFB, up</text>
<text x="1497.7" y="1724.69">LIFR, up</text>
<text x="1497.7" y="1749.23">JUN, up</text>
<text x="1497.7" y="1773.76">JUNB, down</text>
<text x="1497.7" y="1798.30">ETV6, down</text>
<text x="1497.7" y="1822.84">HNF4A, down</text>
<text x="1497.7" y="1847.38">CD44, down</text>
<text x="1497.7" y="1871.92">NIPBL, up</text>
<text x="1497.7" y="1896.45">WNT3, up</text>
<text x="1497.7" y="1920.99">WNT3A, up</text>
<text x="1497.7" y="1945.53">WNT1, up</text>
<text x="1497.7" y="1970.07">TP73, down</text>
<text x="1497.7" y="1994.61">IRF1, down</text>
<text x="1497.7" y="2019.15">PAX2, up</text>
<text x="1497.7" y="2043.68">IRS4, up</text>
<text x="1497.7" y="2068.22">MYC, up</text>
<text x="1497.7" y="2092.76">PTMA, up</text>
<text x="1497.7" y="2117.30">PRDM16, up</text>
<text x="1497.7" y="2141.84">TRPS1, up</text>
<text x="1497.7" y="2166.37">CCR1, up</text>
<text x="1497.7" y="2190.91">PAX2, down</text>
<text x="1497.7" y="2215.45">IRF1, up</text>
<text x="1497.7" y="2239.99">PTMA, down</text>
<text x="1497.7" y="2264.53">IRS4, down</text>
<text x="1497.7" y="2289.06">CCR1, down</text>
<text x="1497.7" y="2313.60">HNF4A, up</text>
<text x="1497.7" y="2338.14">PRDM16, down</text>
<text x="1497.7" y="2362.68">TRPS1, down</text>
<text x="1497.7" y="2387.22">MYC, down</text>
<text x="1497.7" y="2411.75">WNT3, down</text>
<text x="1497.7" y="2436.29">WNT3A, down</text>
<text x="1497.7" y="2460.83">WNT1, down</text>
</g>
<g font-size="24.5" text-anchor="end">
<text transform="translate(473.77,2473.5) rotate(-90)">WNT1, down</text>
<text transform="translate(498.31,2473.5) rotate(-90)">WNT3A, down</text>
<text transform="translate(522.85,2473.5) rotate(-90)">WNT3, down</text>
<text transform="translate(547.38,2473.5) rotate(-90)">MYC, down</text>
<text transform="translate(571.92,2473.5) rotate(-90)">TRPS1, down</text>
<text transform="translate(596.46,2473.5) rotate(-90)">PRDM16, down</text>
<text transform="translate(621.00,2473.5) rotate(-90)">HNF4A, up</text>
<text transform="translate(645.54,2473.5) rotate(-90)">CCR1, down</text>
<text transform="translate(670.07,2473.5) rotate(-90)">IRS4, down</text>
<text transform="translate(694.61,2473.5) rotate(-90)">PTMA, down</text>
<text transform="translate(719.15,2473.5) rotate(-90)">IRF1, up</text>
<text transform="translate(743.69,2473.5) rotate(-90)">PAX2, down</text>
<text transform="translate(768.23,2473.5) rotate(-90)">CCR1, up</text>
<text transform="translate(792.76,2473.5) rotate(-90)">TRPS1, up</text>
<text transform="translate(817.30,2473.5) rotate(-90)">PRDM16, up</text>
<text transform="translate(841.84,2473.5) rotate(-90)">PTMA, up</text>
<text transform="translate(866.38,2473.5) rotate(-90)">MYC, up</text>
<text transform="translate(890.92,2473.5) rotate(-90)">IRS4, up</text>
<text transform="translate(915.45,2473.5) rotate(-90)">PAX2, up</text>
<text transform="translate(939.99,2473.5) rotate(-90)">IRF1, down</text>
<text transform="translate(964.53,2473.5) rotate(-90)">TP73, down</text>
<text transform="translate(989.07,2473.5) rotate(-90)">WNT1, up</text>
<text transform="translate(1013.61,2473.5) rotate(-90)">WNT3A, up</text>
<text transform="translate(1038.15,2473.5) rotate(-90)">WNT3, up</text>
<text transform="translate(1062.68,2473.5) rotate(-90)">NIPBL, up</text>
<text transform="translate(1087.22,2473.5) rotate(-90)">CD44, down</text>
<text transform="translate(1111.76,2473.5) rotate(-90)">HNF4A, down</text>
<text transform="translate(1136.30,2473.5) rotate(-90)">ETV6, down</text>
<text transform="translate(1160.84,2473.5) rotate(-90)">JUNB, down</text>
<text transform="translate(1185.37,2473.5) rotate(-90)">JUN, up</text>
<text transform="translate(1209.91,2473.5) rotate(-90)">LIFR, up</text>
<text transform="translate(1234.45,2473.5) rotate(-90)">SAFB, up</text>
<text transform="translate(1258.99,2473.5) rotate(-90)">HOXD13, up</text>
<text transform="translate(1283.53,2473.5) rotate(-90)">IFNB1, up</text>
<text transform="translate(1308.06,2473.5) rotate(-90)">CD44, up</text>
<text transform="translate(1332.60,2473.5) rotate(-90)">JUNB, up</text>
<text transform="translate(1357.14,2473.5) rotate(-90)">TP73, up</text>
<text transform="translate(1381.68,2473.5) rotate(-90)">ETV6, up</text>
<text transform="translate(1406.22,2473.5) rotate(-90)">TBX5, up</text>
<text transform="translate(1430.75,2473.5) rotate(-90)">TBX5, down</text>
<text transform="translate(1455.29,2473.5) rotate(-90)">MLLT3, up</text>
<text transform="translate(1479.83,2473.5) rotate(-90)">NIPBL, down</text>
</g>
<g font-size="29">
<text x="1497.6" y="1349.0">GA clusters</text>
<text x="1497.6" y="1380.0">GA compartment</text>
<text x="1497.6" y="1411.9">Effect</text>
</g>
<text transform="translate(383,2480.8) rotate(-90)" font-size="29" text-anchor="end">Effect</text>
<text transform="translate(431.2,2480.2) rotate(-90)" font-size="29" text-anchor="end">GA compartment</text>
<text x="957" y="2688.6" font-size="32.7" text-anchor="middle">GA sub-signatures</text>
<text transform="translate(1690.7,1905.6) rotate(-90)" font-size="32.6" text-anchor="middle">GA sub-signatures</text>
<text x="1796.4" y="1369.8" font-size="29">GA clusters</text>
<rect x="1822.4" y="1398.6" width="13.6" height="13.4" fill="#000"/>
<text x="1855.8" y="1415.6" font-size="28.5">C1</text>
<rect x="1822.4" y="1433.8" width="13.6" height="13.4" fill="#e8252f"/>
<text x="1855.8" y="1450.8" font-size="28.5">C2</text>
<rect x="1822.4" y="1469.1" width="13.6" height="13.4" fill="#51969b"/>
<text x="1855.8" y="1486.1" font-size="28.5">C3</text>
<rect x="1822.4" y="1504.3" width="13.6" height="13.4" fill="#b2b6b5"/>
<text x="1855.8" y="1521.3" font-size="28.5">C4</text>
<rect x="1822.4" y="1539.6" width="13.6" height="13.4" fill="#026133"/>
<text x="1855.8" y="1556.6" font-size="28.5">C5</text>
<text x="1796.4" y="1607.8" font-size="29">GA compartment</text>
<rect x="1822.4" y="1624.4" width="13.6" height="13.4" fill="#e8252f"/>
<text x="1855.6" y="1641.9" font-size="28.5">Up</text>
<rect x="1822.4" y="1659.5" width="13.6" height="13.4" fill="#000"/>
<text x="1855.6" y="1676.6" font-size="28.5">Down</text>
<text x="1796.2" y="1727.8" font-size="29">Effect</text>
<rect x="1813.0" y="1757.4" width="13.6" height="13.4" fill="#51969b"/>
<text x="1846.0" y="1774.5" font-size="28.5">Sensitizing</text>
<rect x="1813.0" y="1792.3" width="13.6" height="13.4" fill="#000"/>
<text x="1846.0" y="1809.2" font-size="28.5">Other</text>
<rect x="1813.0" y="1827.6" width="13.6" height="13.4" fill="#e8252f"/>
<text x="1846.0" y="1844.7" font-size="28.5">Resistance</text>
<defs><linearGradient id="cb" x1="0" x2="1" y1="0" y2="0">
<stop offset="0.0000" stop-color="#365da7"/>
<stop offset="0.1813" stop-color="#365da7"/>
<stop offset="0.2573" stop-color="#4860a8"/>
<stop offset="0.3158" stop-color="#787fb8"/>
<stop offset="0.3860" stop-color="#aaaed2"/>
<stop offset="0.4444" stop-color="#d6d8e8"/>
<stop offset="0.4912" stop-color="#fafafc"/>
<stop offset="0.5263" stop-color="#faecec"/>
<stop offset="0.5673" stop-color="#f3d0d0"/>
<stop offset="0.6023" stop-color="#edb7b7"/>
<stop offset="0.6608" stop-color="#e88c8f"/>
<stop offset="0.7135" stop-color="#e9666b"/>
<stop offset="0.7485" stop-color="#ea4c52"/>
<stop offset="0.7895" stop-color="#e92533"/>
<stop offset="1.0000" stop-color="#e92533"/>
</linearGradient></defs>
<rect x="1547.3" y="2548.8" width="219.6" height="33.5" fill="url(#cb)"/>
<line x1="1547.3" y1="2582.3" x2="1766.9" y2="2582.3" stroke="#111" stroke-width="1.6"/>
<line x1="1547.3" y1="2549.2" x2="1766.9" y2="2549.2" stroke="#555" stroke-width="0.8" opacity="0.6"/>
<g stroke="#000" stroke-width="1.6">
<line x1="1548.1" y1="2582" x2="1548.1" y2="2586"/>
<line x1="1612.3" y1="2582" x2="1612.3" y2="2586"/>
<line x1="1676.4" y1="2582" x2="1676.4" y2="2586"/>
<line x1="1740.6" y1="2582" x2="1740.6" y2="2586"/>
</g>
<text x="1548.1" y="2610.5" font-size="22.5" text-anchor="middle">0</text>
<text x="1612.3" y="2610.5" font-size="22.5" text-anchor="middle">5</text>
<text x="1676.4" y="2610.5" font-size="22.5" text-anchor="middle">10</text>
<text x="1740.6" y="2610.5" font-size="22.5" text-anchor="middle">15</text>
<text x="1561.6" y="2530.9" font-size="28.5">-log</text>
<text x="1610.7" y="2540.4" font-size="16">10</text>
<text x="1628.0" y="2530.9" font-size="28.5">(p-value)</text></svg>
</body></html>
